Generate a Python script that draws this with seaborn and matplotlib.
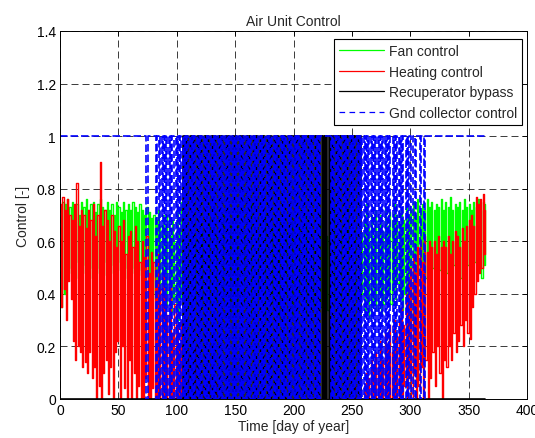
import numpy as np
import pandas as pd
import matplotlib
matplotlib.use("Agg")
import matplotlib.pyplot as plt
from matplotlib.lines import Line2D
import seaborn as sns

# Daily control signals over one year (one sample per day).
# Fan and heating controls in percent, alternating daytime/nighttime readings.
fan_control_pct = [
    72, 35, 75, 40, 74, 52, 76, 48, 73, 50,
    75, 47, 72, 52, 74, 46, 70, 50, 75, 48,
    73, 51, 76, 47, 72, 50, 74, 46, 75, 52,
    71, 48, 74, 50, 76, 45, 73, 52, 72, 47,
    75, 50, 72, 48, 74, 51, 70, 46, 75, 49,
    73, 52, 71, 47, 75, 50, 72, 46, 74, 51,
    72, 48, 75, 50, 73, 45, 71, 49, 74, 47,
    72, 44, 70, 48, 73, 42, 71, 46, 69, 40,
    70, 38, 68, 42, 72, 36, 66, 40, 70, 38,
    65, 35, 70, 40, 62, 33, 68, 38, 60, 35,
    72, 30, 65, 38, 75, 32, 58, 40, 70, 34,
    62, 36, 68, 30, 74, 38, 60, 33, 66, 40,
    70, 35, 64, 38, 72, 30, 60, 36, 68, 34,
    66, 32, 70, 36, 62, 40, 74, 30, 65, 38,
    70, 34, 63, 39, 72, 31, 66, 37, 61, 35,
    68, 33, 73, 38, 64, 30, 70, 36, 62, 40,
    71, 35, 66, 31, 74, 37, 60, 34, 69, 38,
    64, 32, 72, 36, 67, 30, 70, 39, 63, 35,
    73, 37, 65, 33, 70, 40, 62, 31, 68, 36,
    66, 34, 71, 38, 63, 32, 74, 35, 69, 30,
    62, 37, 70, 33, 66, 39, 72, 31, 64, 36,
    70, 30, 65, 38, 73, 34, 61, 36, 68, 32,
    64, 39, 71, 35, 67, 31, 70, 37, 62, 34,
    72, 36, 66, 30, 74, 38, 63, 33, 69, 35,
    65, 31, 70, 37, 62, 34, 73, 39, 66, 32,
    71, 35, 64, 38, 69, 30, 72, 36, 63, 40,
    68, 33, 74, 37, 65, 31, 70, 35, 62, 38,
    72, 34, 66, 40, 70, 32, 64, 36, 73, 38,
    66, 40, 71, 36, 68, 42, 74, 38, 70, 44,
    66, 38, 72, 34, 68, 40, 74, 36, 70, 42,
    72, 30, 75, 45, 70, 33, 76, 48, 72, 44,
    74, 50, 72, 46, 76, 52, 73, 48, 75, 50,
    72, 47, 74, 51, 73, 49, 76, 46, 72, 52,
    75, 48, 73, 50, 77, 47, 72, 51, 74, 49,
    73, 52, 75, 46, 72, 50, 76, 48, 73, 51,
    74, 49, 72, 47, 75, 52, 73, 48, 76, 50,
    72, 46, 75, 51, 74,
]

heating_control_pct = [
    74, 35, 77, 42, 72, 30, 76, 45, 70, 38,
    68, 22, 74, 15, 82, 20, 66, 18, 72, 12,
    70, 14, 65, 10, 72, 18, 68, 8, 74, 12,
    62, 0, 70, 5, 90, 0, 66, 10, 72, 15,
    68, 2, 60, 12, 70, 0, 64, 18, 58, 22,
    66, 0, 60, 20, 68, 4, 55, 0, 62, 15,
    64, 0, 58, 10, 66, 0, 60, 5, 52, 0,
    60, 0, 54, 8, 62, 0, 48, 0, 56, 4,
    52, 0, 45, 0, 55, 0, 42, 0, 48, 0,
    40, 0, 32, 0, 45, 0, 25, 0, 36, 0,
    28, 0, 20, 0, 30, 0, 15, 0, 22, 0,
    18, 0, 25, 0, 12, 0, 20, 0, 8, 0,
    15, 0, 5, 0, 12, 0, 0, 0, 8, 0,
    4, 0, 0, 0, 6, 0, 0, 0, 3, 0,
    0, 0, 5, 0, 0, 0, 0, 0, 4, 0,
    0, 0, 0, 0, 3, 0, 0, 0, 0, 0,
    0, 0, 0, 0, 0, 0, 0, 0, 0, 0,
    0, 0, 0, 0, 0, 0, 0, 0, 0, 0,
    0, 0, 0, 0, 0, 0, 0, 0, 0, 0,
    0, 0, 0, 0, 0, 0, 0, 0, 0, 0,
    0, 0, 0, 0, 0, 0, 0, 0, 0, 0,
    0, 0, 0, 0, 0, 0, 0, 0, 0, 0,
    0, 0, 0, 0, 0, 0, 0, 0, 0, 0,
    0, 0, 0, 0, 0, 0, 0, 0, 0, 0,
    0, 0, 0, 0, 3, 0, 0, 0, 4, 0,
    0, 0, 5, 0, 0, 0, 6, 0, 0, 0,
    5, 0, 10, 0, 8, 0, 15, 0, 12, 0,
    18, 0, 12, 0, 22, 0, 15, 0, 25, 0,
    20, 0, 28, 0, 18, 0, 30, 0, 24, 0,
    30, 0, 35, 0, 28, 5, 40, 0, 45, 8,
    50, 0, 55, 10, 48, 0, 58, 5, 60, 12,
    52, 0, 62, 15, 56, 0, 60, 8, 58, 18,
    60, 5, 55, 20, 62, 10, 58, 0, 60, 15,
    58, 12, 62, 20, 55, 15, 60, 25, 64, 18,
    62, 22, 58, 28, 65, 20, 60, 30, 66, 25,
    68, 23, 70, 35, 66, 40, 77, 45, 74, 48,
    76, 50, 78, 55, 72,
]

# On/off states, one character per day (ten days per chunk).
recuperator_bypass_state = "".join([
    "0000000000", "0000000000", "0000000000", "0000000000", "0000000000",
    "0000000000", "0000000000", "0000000000", "0000000000", "0000000000",
    "0000010101", "0101010101", "0101010101", "0101010101", "0101010101",
    "0101010101", "0101010101", "0101010101", "0101010101", "0101010101",
    "0101010101", "0101010101", "0101010101", "0101010101", "0101010101",
    "0101010100", "0000000000", "0000000000", "0000000000", "0000000000",
    "0000000000", "0000000000", "0000000000", "0000000000", "0000000000",
    "0000000000", "00000",
])

gnd_collector_state = "".join([
    "1111111111", "1111111111", "1111111111", "1111111111", "1111111111",
    "1111111111", "1111111111", "1111011111", "1101101010", "1010101101",
    "0101010101", "0101010101", "0101010101", "0101010101", "0101010101",
    "0101010101", "0101010101", "0101010101", "0101010101", "0101010101",
    "0101010101", "0101010101", "0101111111", "1101010101", "0101010101",
    "0101010101", "0101010101", "0101010101", "0101101010", "1010110101",
    "1011011101", "1101111111", "1111111111", "1111111111", "1111111111",
    "1111111111", "11111",
])

series_labels = ["Fan control", "Heating control", "Recuperator bypass",
                 "Gnd collector control"]
series_colors = ["#00ff00", "#ff0000", "#000000", "#0000ff"]
tick_days = [0, 50, 100, 150, 200, 250, 300, 350, 400]
tick_control = [0, 0.2, 0.4, 0.6, 0.8, 1.0, 1.2, 1.4]
tick_control_labels = ["0", "0.2", "0.4", "0.6", "0.8", "1", "1.2", "1.4"]

GND_DASH = (0, (4.5, 1.8))


def daily_frame(values):
    return pd.DataFrame({"day": np.arange(len(values)), "value": values})


fan = daily_frame(np.array(fan_control_pct) / 100.0)
heating = daily_frame(np.array(heating_control_pct) / 100.0)
bypass = daily_frame([int(c) for c in recuperator_bypass_state])
gnd = daily_frame([int(c) for c in gnd_collector_state])

sns.set_style("white")
plt.rcParams["font.family"] = ["Liberation Sans", "DejaVu Sans"]
plt.rcParams["font.size"] = 10

fig = plt.figure(figsize=(5.35, 4.39), dpi=100)
ax = fig.add_axes([60 / 535, 39 / 439, 467 / 535, 368 / 439])

common = dict(ax=ax, x="day", y="value", estimator=None, sort=False,
              legend=False, drawstyle="steps-post")
sns.lineplot(data=fan, color=series_colors[0], linewidth=1.0, **common)
sns.lineplot(data=heating, color=series_colors[1], linewidth=1.0, **common)
sns.lineplot(data=bypass, color=series_colors[2], linewidth=1.2, **common)
sns.lineplot(data=gnd, color=series_colors[3], linewidth=1.2,
             linestyle=GND_DASH, **common)

ax.set_xlim(0, 400)
ax.set_ylim(0, 1.4)
ax.set_xticks(tick_days)
ax.set_xticklabels([str(d) for d in tick_days])
ax.set_yticks(tick_control)
ax.set_yticklabels(tick_control_labels)
ax.grid(True, color="#1a1a1a", linestyle=(0, (8.4, 4.8)), linewidth=0.6)
ax.set_axisbelow(True)
ax.tick_params(direction="in", length=3.5, width=0.6, top=True, right=True,
               labelsize=10, colors="black", pad=3)
for sp in ax.spines.values():
    sp.set_color("black")
    sp.set_linewidth(0.7)

ax.set_title("Air Unit Control", fontsize=10, pad=4)
ax.set_xlabel("Time [day of year]", fontsize=10, labelpad=1)
ax.set_ylabel("Control [-]", fontsize=10, labelpad=5)

handles = [
    Line2D([], [], color=series_colors[0], lw=0.9),
    Line2D([], [], color=series_colors[1], lw=0.9),
    Line2D([], [], color=series_colors[2], lw=0.9),
    Line2D([], [], color=series_colors[3], lw=0.9, linestyle=(0, (4.5, 3.5))),
]
leg = ax.legend(handles, series_labels, loc="upper right",
                bbox_to_anchor=(0.99, 0.978), fontsize=10, frameon=True,
                fancybox=False, framealpha=1, edgecolor="black",
                handlelength=3.2, handletextpad=0.4, labelspacing=0.48,
                borderpad=0.35, borderaxespad=0)
leg.get_frame().set_linewidth(0.8)

fig.savefig("out.png", dpi=100)
